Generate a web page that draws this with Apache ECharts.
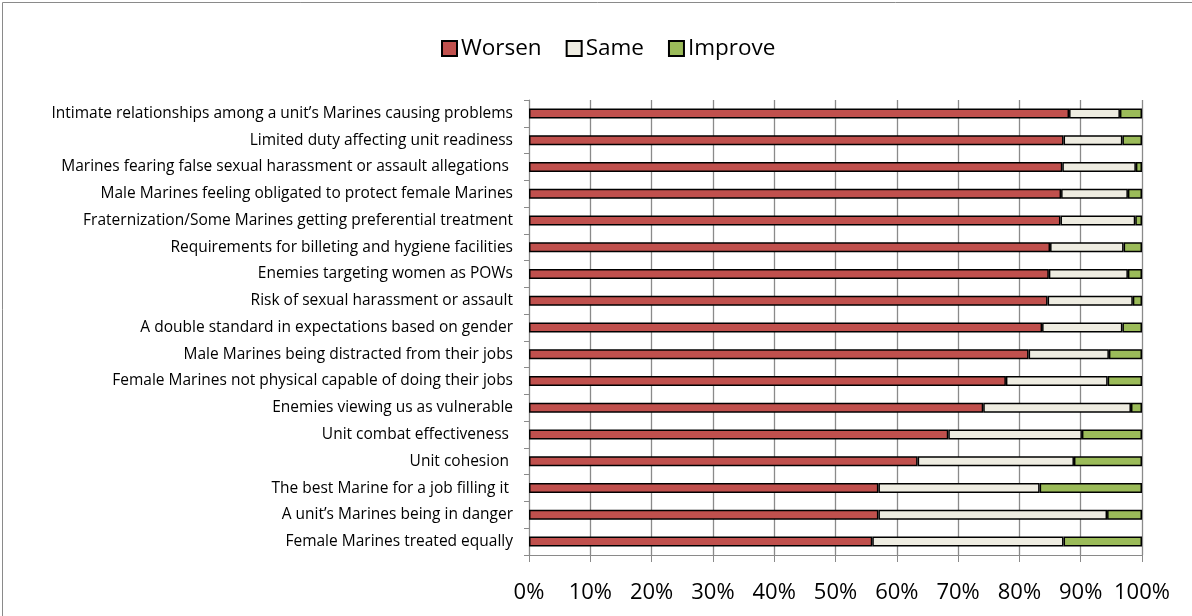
<!DOCTYPE html>
<html>
<head>
<meta charset="utf-8">
<script src="https://cdn.jsdelivr.net/npm/echarts@6/dist/echarts.min.js"></script>
<style>
html,body{margin:0;padding:0;background:#fff;}
#chart{width:1192px;height:616px;}
</style>
</head>
<body>
<div id="chart"></div>
<script>
const categories = [
  "Intimate relationships among a unit\u2019s Marines causing problems",
  "Limited duty affecting unit readiness",
  "Marines fearing false sexual harassment or assault allegations ",
  "Male Marines feeling obligated to protect female Marines",
  "Fraternization/Some Marines getting preferential treatment",
  "Requirements for billeting and hygiene facilities",
  "Enemies targeting women as POWs",
  "Risk of sexual harassment or assault",
  "A double standard in expectations based on gender",
  "Male Marines being distracted from their jobs",
  "Female Marines not physical capable of doing their jobs",
  "Enemies viewing us as vulnerable",
  "Unit combat effectiveness ",
  "Unit cohesion ",
  "The best Marine for a job filling it ",
  "A unit\u2019s Marines being in danger",
  "Female Marines treated equally"
];
const worsen  = [88.1, 87.2, 87.0, 86.8, 86.7, 85.0, 84.8, 84.6, 83.7, 81.5, 77.8, 74.1, 68.4, 63.4, 57.0, 57.0, 56.0];
const same    = [ 8.3,  9.6, 12.0, 10.9, 12.2, 12.0, 12.9, 13.9, 13.1, 13.1, 16.6, 24.1, 21.8, 25.5, 26.3, 37.3, 31.2];
const improve = [ 3.6,  3.2,  1.0,  2.3,  1.1,  3.0,  2.3,  1.5,  3.2,  5.4,  5.6,  1.8,  9.8, 11.1, 16.7,  5.7, 12.8];
const xTicks = [0, 10, 20, 30, 40, 50, 60, 70, 80, 90, 100];
const seriesNames = ["Worsen", "Same", "Improve"];
const seriesColors = ["#C0504D", "#EEECE1", "#9BBB59"];

const font = "'Open Sans', 'Liberation Sans', sans-serif";
const chart = echarts.init(document.getElementById('chart'), null, {renderer: 'canvas'});
const values = [worsen, same, improve];
chart.setOption({
  animation: false,
  backgroundColor: '#fff',
  graphic: [{
    type: 'rect', left: 0, top: 0,
    shape: {x: 0.5, y: 0.5, width: 1191, height: 615},
    style: {fill: 'none', stroke: '#8a8a8a', lineWidth: 1}, silent: true
  }],
  legend: {
    data: seriesNames,
    top: 32, left: 436,
    itemWidth: 15, itemHeight: 15, itemGap: 24,
    textStyle: {fontFamily: font, fontSize: 22.5, color: '#000', padding: [0, 0, 0, -1]},
    icon: 'rect'
  },
  grid: {left: 529, right: 50, top: 100, bottom: 61, containLabel: false},
  xAxis: {
    type: 'value', min: 0, max: 100, interval: 10,
    axisLine: {show: true, lineStyle: {color: '#8a8a8a', width: 1}},
    axisTick: {show: true, length: 7, lineStyle: {color: '#8a8a8a'}},
    splitLine: {show: true, lineStyle: {color: '#8a8a8a', width: 1.3}},
    axisLabel: {
      fontFamily: font, fontSize: 22, color: '#000', margin: 27,
      formatter: v => xTicks.includes(v) ? v + '%' : ''
    }
  },
  yAxis: {
    type: 'category', data: categories, inverse: true,
    axisLine: {show: true, lineStyle: {color: '#8a8a8a'}},
    axisTick: {show: true, length: 5, lineStyle: {color: '#8a8a8a'}},
    axisLabel: {fontFamily: font, fontSize: 15.5, color: '#000', margin: 16}
  },
  series: seriesNames.map((n, i) => ({
    name: n, type: 'bar', stack: 'total',
    data: values[i], barWidth: 10,
    itemStyle: {color: seriesColors[i], borderColor: '#000', borderWidth: 1.5}
  }))
});
</script>
</body>
</html>
